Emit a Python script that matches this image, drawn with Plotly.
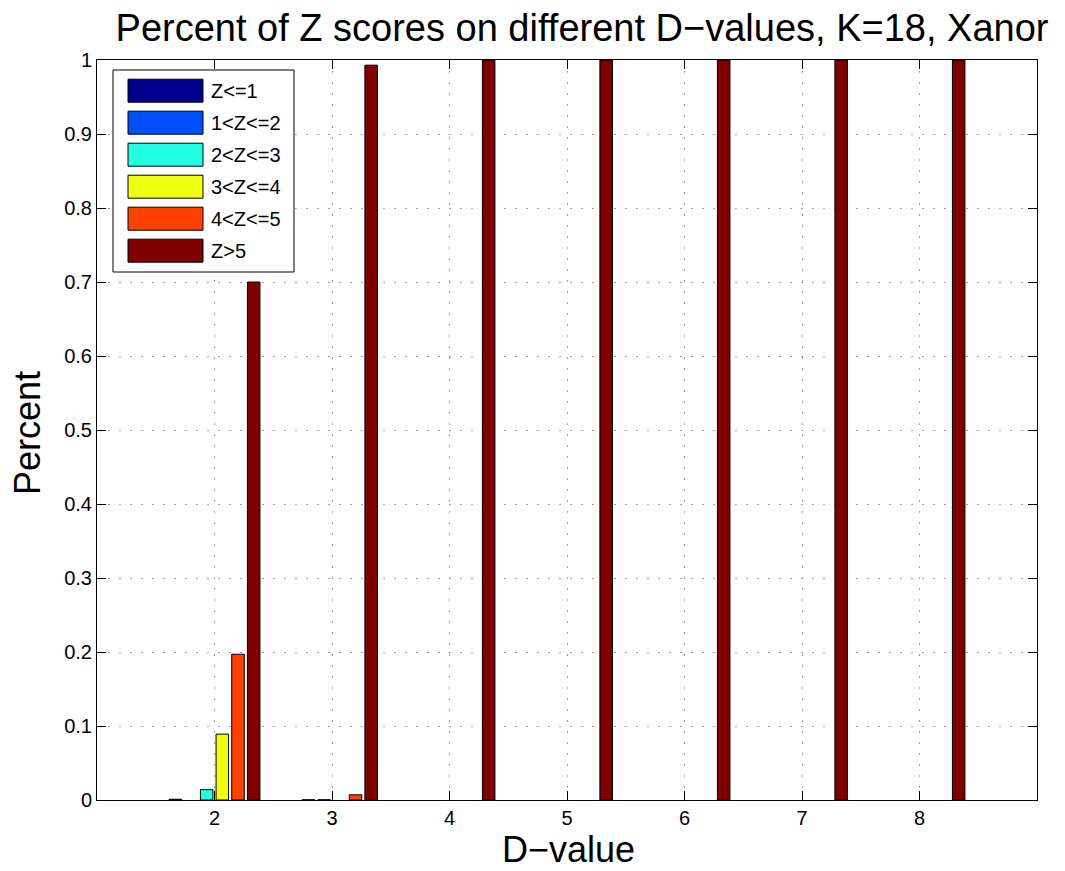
import plotly.graph_objects as go

d_values = [2, 3, 4, 5, 6, 7, 8]
series_names = ["Z<=1", "1<Z<=2", "2<Z<=3", "3<Z<=4", "4<Z<=5", "Z>5"]
z_le1 = [0.001, 0.0, 0.0, 0.0, 0.0, 0.0, 0.0]
z_1_2 = [0.0, 0.0003, 0.0, 0.0, 0.0, 0.0, 0.0]
z_2_3 = [0.014, 0.0003, 0.0, 0.0, 0.0, 0.0, 0.0]
z_3_4 = [0.089, 0.0, 0.0, 0.0, 0.0, 0.0, 0.0]
z_4_5 = [0.197, 0.007, 0.0, 0.0, 0.0, 0.0, 0.0]
z_gt5 = [0.700, 0.993, 1.0, 1.0, 1.0, 1.0, 1.0]
series_values = [z_le1, z_1_2, z_2_3, z_3_4, z_4_5, z_gt5]
colors = ["#00008F", "#0050FF", "#20FFDF", "#EFFF10", "#FF4000", "#800000"]
y_ticks = [0, 0.1, 0.2, 0.3, 0.4, 0.5, 0.6, 0.7, 0.8, 0.9, 1]
y_tick_labels = ["0", "0.1", "0.2", "0.3", "0.4", "0.5", "0.6", "0.7", "0.8", "0.9", "1"]

OFF = 8  # page body margin
W, H = 1065 - OFF, 871 - OFF
# plot-area edges in page pixels
PL, PR, PT, PB = 97, 1037, 60, 800
L, R, T, B = PL - OFF, PR - OFF, PT - OFF, PB - OFF
font = "Liberation Sans, Arial, Helvetica, sans-serif"

fig = go.Figure()
for name, vals, col in zip(series_names, series_values, colors):
    fig.add_trace(go.Bar(x=d_values, y=[v if v != 0 else None for v in vals],
                         name=name, marker_color=col,
                         marker_line_color="black", marker_line_width=1,
                         showlegend=False))

def px(x):
    return (x - PL) / (PR - PL)

def py(y):
    return (PB - y) / (PB - PT)

shapes = []
annotations = []
# legend box
shapes.append(dict(type="rect", xref="paper", yref="paper",
                   x0=px(113), x1=px(294), y0=py(272), y1=py(70),
                   line=dict(color="black", width=1), fillcolor="white", layer="above"))
for i, (name, col) in enumerate(zip(series_names, colors)):
    yc = 90.7 + 32 * i
    shapes.append(dict(type="rect", xref="paper", yref="paper",
                       x0=px(128), x1=px(203), y0=py(yc + 11.5), y1=py(yc - 11.5),
                       line=dict(color="black", width=1), fillcolor=col, layer="above"))
    annotations.append(dict(xref="paper", yref="paper", x=px(209), y=py(yc),
                            xanchor="left", yanchor="middle", text=name, showarrow=False,
                            font=dict(family=font, size=20, color="black")))

# axis titles
annotations.append(dict(xref="paper", yref="paper", x=px(568), y=py(849),
                        xanchor="center", yanchor="middle", text="D\u2212value",
                        showarrow=False, font=dict(family=font, size=36, color="black")))
annotations.append(dict(xref="paper", yref="paper", x=px(27), y=py(433),
                        xanchor="center", yanchor="middle", text="Percent", textangle=-90,
                        showarrow=False, font=dict(family=font, size=36, color="black")))

fig.update_layout(
    width=W, height=H,
    margin=dict(l=L, r=W - R, t=T, b=H - B, pad=0),
    paper_bgcolor="white", plot_bgcolor="white",
    barmode="group", bargap=0.2, bargroupgap=0.2,
    title=dict(text="Percent of Z scores on different D\u2212values, K=18, Xanor",
               x=(582 - OFF) / W, xanchor="center", y=1 - (28 - OFF) / H, yanchor="middle",
               font=dict(family=font, size=38, color="black")),
    font=dict(family=font, size=20, color="black"),
    shapes=shapes, annotations=annotations,
)
fig.update_xaxes(range=[1, 9], tickvals=d_values, ticktext=[str(v) for v in d_values],
                 showline=True, linecolor="black", linewidth=1, mirror="ticks",
                 ticks="inside", ticklen=9, tickcolor="black",
                 showgrid=True, gridcolor="#A0A0A0", griddash="2px,9px", gridwidth=1,
                 zeroline=False, tickfont=dict(size=20))
fig.update_yaxes(range=[0, 1], tickvals=y_ticks, ticktext=y_tick_labels,
                 showline=True, linecolor="black", linewidth=1, mirror="ticks",
                 ticks="inside", ticklen=9, tickcolor="black",
                 showgrid=True, gridcolor="#A0A0A0", griddash="2px,9px", gridwidth=1,
                 zeroline=False, tickfont=dict(size=20))

fig.write_html("out.html")
